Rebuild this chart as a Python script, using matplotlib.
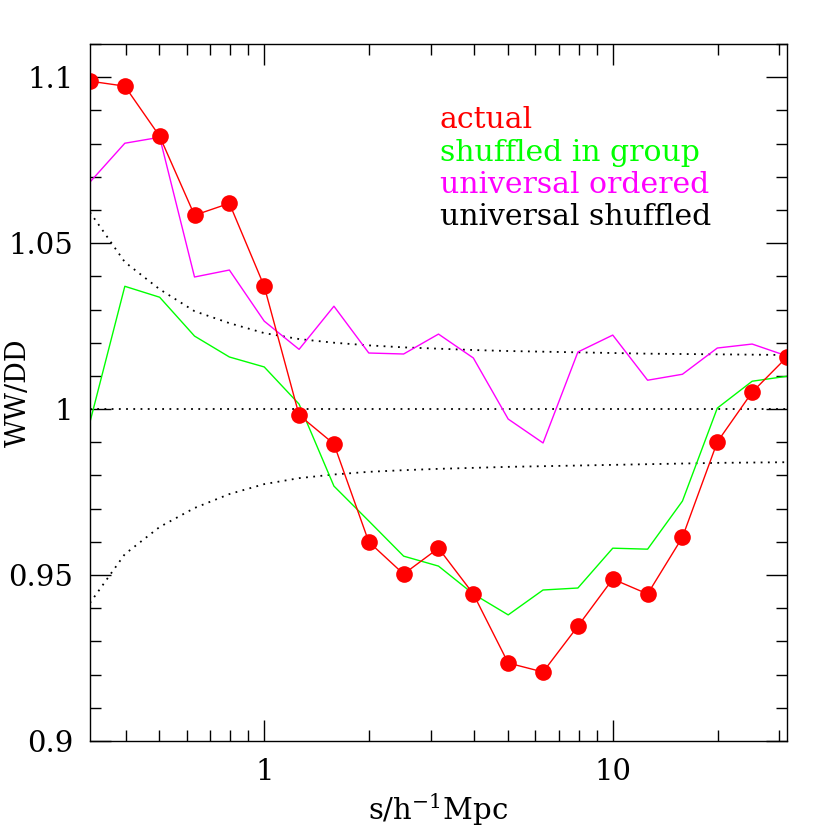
import numpy as np
import matplotlib
matplotlib.use("Agg")
import matplotlib.pyplot as plt
from matplotlib.ticker import FixedLocator, NullFormatter, MultipleLocator

plt.rcParams['font.family'] = ['DejaVu Serif']
plt.rcParams['mathtext.fontset'] = 'dejavuserif'

# separations s / h^-1 Mpc (log steps of 0.1 dex; last one lies past the right edge)
log_s = [-0.5, -0.4, -0.3, -0.2, -0.1, 0.0, 0.1, 0.2, 0.3, 0.4, 0.5,
         0.6, 0.7, 0.8, 0.9, 1.0, 1.1, 1.2, 1.3, 1.4, 1.5, 1.6]

actual = [1.0988, 1.0973, 1.0822, 1.0584, 1.0620, 1.0370, 0.9982, 0.9895,
          0.9600, 0.9503, 0.9581, 0.9443, 0.9235, 0.9208, 0.9346, 0.9488,
          0.9443, 0.9614, 0.9901, 1.0051, 1.0157, 1.0250]
shuffled_group = [0.9961, 1.0370, 1.0337, 1.0220, 1.0157, 1.0127, 1.0015, 0.9768,
                  0.9663, 0.9557, 0.9527, 0.9443, 0.9380, 0.9455, 0.9461, 0.9581,
                  0.9578, 0.9723, 1.0003, 1.0084, 1.0099, 1.0113]
universal_ordered = [1.0684, 1.0801, 1.0819, 1.0398, 1.0419, 1.0265, 1.0180, 1.0310,
                     1.0169, 1.0166, 1.0226, 1.0154, 0.9970, 0.9898, 1.0172, 1.0223,
                     1.0087, 1.0105, 1.0184, 1.0196, 1.0160, 1.0133]

# universal shuffled: mean and scatter envelope
shuf_mean = [1.0] * 22
shuf_upper = [1.0593, 1.0443, 1.0361, 1.0295, 1.0259, 1.0229, 1.0211, 1.0200,
              1.0192, 1.0186, 1.0182, 1.0178, 1.0175, 1.0173, 1.0171, 1.0169,
              1.0167, 1.0166, 1.0165, 1.0164, 1.0163, 1.0162]
shuf_lower = [0.9416, 0.9563, 0.9645, 0.9702, 0.9744, 0.9774, 0.9792, 0.9803,
              0.9811, 0.9816, 0.9820, 0.9823, 0.9826, 0.9828, 0.9830, 0.9832,
              0.9834, 0.9836, 0.9838, 0.9839, 0.9840, 0.9841]

legend_labels = ['actual', 'shuffled in group', 'universal ordered', 'universal shuffled']
legend_colors = ['#ff0000', '#00ff00', '#ff00ff', 'black']

s = 10 ** np.array(log_s)

fig = plt.figure(figsize=(8.3, 8.3), dpi=100)
ax = fig.add_axes([0.1084, 0.1072, 0.8398, 0.8398])

dots = (0, (1.0, 3.0))
for curve in (shuf_mean, shuf_upper, shuf_lower):
    ax.plot(s, curve, color='black', lw=1.3, linestyle=dots)

ax.plot(s, universal_ordered, color='#ff00ff', lw=1.0)
ax.plot(s, shuffled_group, color='#00ff00', lw=1.0)
ax.plot(s, actual, color='#ff0000', lw=1.0, marker='o', markersize=12,
        markeredgewidth=0)

ax.set_xscale('log')
ax.set_xlim(10 ** -0.5, 10 ** 1.5)
ax.set_ylim(0.9, 1.11)

ax.set_xticks([1, 10])
ax.set_xticklabels(['1', '10'])
minor_x = [m * 10.0 ** e for e in (-1, 0, 1) for m in range(2, 10)]
ax.xaxis.set_minor_locator(FixedLocator(minor_x))
ax.xaxis.set_minor_formatter(NullFormatter())

ax.set_yticks([0.9, 0.95, 1.0, 1.05, 1.1])
ax.set_yticklabels(['0.9', '0.95', '1', '1.05', '1.1'])
ax.yaxis.set_minor_locator(MultipleLocator(0.01))

ax.tick_params(which='both', direction='in', top=True, right=True, width=1.0)
ax.tick_params(which='major', length=15, labelsize=21)
ax.tick_params(which='minor', length=8)
ax.tick_params(axis='x', which='major', pad=12)
ax.tick_params(axis='y', which='major', pad=12)
for sp in ax.spines.values():
    sp.set_linewidth(1.0)

ax.set_xlabel(r's/h$^{-1}$Mpc', fontsize=21, va='center')
ax.xaxis.set_label_coords(0.5, -0.099)
ax.set_ylabel('WW/DD', fontsize=19.5, va='center')
ax.yaxis.set_label_coords(-0.103, 0.5)

for i, (lab, col) in enumerate(zip(legend_labels, legend_colors)):
    ax.text(0.502, 0.879 - i * 0.0463, lab, color=col, fontsize=21.5,
            transform=ax.transAxes, ha='left', va='baseline')

fig.savefig('out.png', dpi=100)
